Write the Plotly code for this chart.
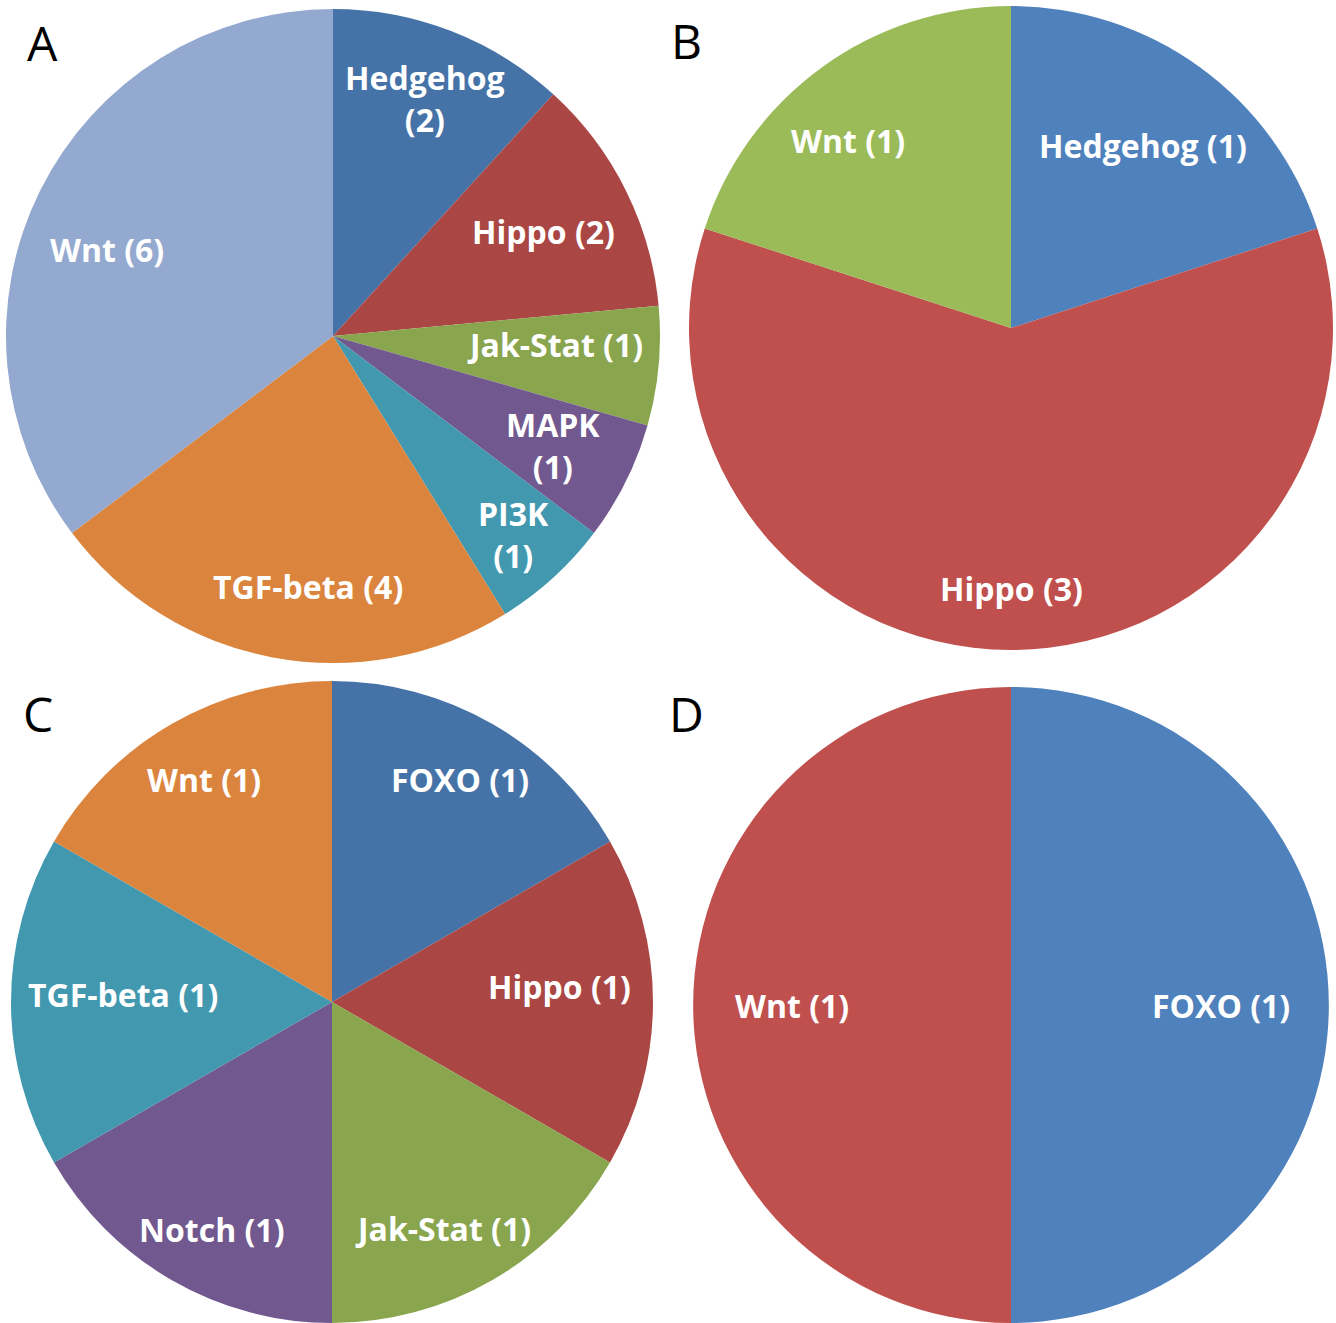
import math
import plotly.graph_objects as go

# ---------------- data ----------------
a_labels = ["Hedgehog", "Hippo", "Jak-Stat", "MAPK", "PI3K", "TGF-beta", "Wnt"]
a_values = [2, 2, 1, 1, 1, 4, 6]

b_labels = ["Hedgehog", "Hippo", "Wnt"]
b_values = [1, 3, 1]

c_labels = ["FOXO", "Hippo", "Jak-Stat", "Notch", "TGF-beta", "Wnt"]
c_values = [1, 1, 1, 1, 1, 1]

d_labels = ["FOXO", "Wnt"]
d_values = [1, 1]

panel_letters = ["A", "B", "C", "D"]

# ---------------- styling ----------------
W, H = 1336, 1323
a_colors = ["#4572A7", "#AA4643", "#89A54E", "#71588F", "#4198AF", "#DB843D", "#93A9CF"]
b_colors = ["#4F81BD", "#C0504D", "#9BBB59"]
c_colors = ["#4572A7", "#AA4643", "#89A54E", "#71588F", "#4198AF", "#DB843D"]
d_colors = ["#4F81BD", "#C0504D"]

# label radial position (fraction of radius), angular nudge (deg) and line-break flags
a_lr = [0.78, 0.72, 0.68, 0.75, 0.82, 0.77, 0.74]
a_da = [0, 0, -3, 0, 0, -5, -5.5]
a_br = [True, False, False, True, True, False, False]
b_lr = [0.70, 0.81, 0.77]
b_da = [0, 0, -5]
c_lr = [0.80, 0.71, 0.785, 0.80, 0.65, 0.80]
c_da = [0, -4, 3.8, -2.2, 2, 0]
d_lr = [0.66, 0.69]
d_da = [0, 0]

# pie centres / radii in pixels
geo = {
    "A": (333, 336, 327),
    "B": (1011, 328, 322),
    "C": (332, 1002, 321),
    "D": (1011, 1005, 318),
}
letter_pos = {"A": (42, 43), "B": (686, 40), "C": (38, 713), "D": (686, 713)}

LABEL_FONT = dict(family="Open Sans", size=32, color="white", weight="bold")

panels = [
    ("A", a_labels, a_values, a_colors, a_lr, a_da, a_br),
    ("B", b_labels, b_values, b_colors, b_lr, b_da, [False] * len(b_labels)),
    ("C", c_labels, c_values, c_colors, c_lr, c_da, [False] * len(c_labels)),
    ("D", d_labels, d_values, d_colors, d_lr, d_da, [False] * len(d_labels)),
]

fig = go.Figure()
annotations = []

for key, labels, values, colors, lr, da, br in panels:
    cx, cy, r = geo[key]
    dom_x = [max(0, (cx - r) / W), min(1, (cx + r) / W)]
    dom_y = [max(0, 1 - (cy + r) / H), min(1, 1 - (cy - r) / H)]
    fig.add_trace(go.Pie(
        labels=labels, values=values, sort=False, direction="clockwise",
        rotation=0, marker=dict(colors=colors, line=dict(width=0)),
        textinfo="none", hoverinfo="label+value", showlegend=False,
        domain=dict(x=dom_x, y=dom_y),
    ))
    total = sum(values)
    cum = 0
    for lab, v, k, d, b in zip(labels, values, lr, da, br):
        mid = (cum + v / 2) / total
        cum += v
        th = 2 * math.pi * mid + math.radians(d)
        px = cx + k * r * math.sin(th)
        py = cy - k * r * math.cos(th)
        txt = f"{lab}<br>({v})" if b else f"{lab} ({v})"
        annotations.append(dict(
            x=px / W, y=1 - py / H, xref="paper", yref="paper",
            text=txt, showarrow=False, font=LABEL_FONT,
            xanchor="center", yanchor="middle", align="center",
        ))

for key in panel_letters:
    lx, ly = letter_pos[key]
    annotations.append(dict(
        x=lx / W, y=1 - ly / H, xref="paper", yref="paper",
        text=key, showarrow=False,
        font=dict(family="Open Sans", size=48, color="black"),
        xanchor="center", yanchor="middle",
    ))

fig.update_layout(
    width=W, height=H, margin=dict(l=0, r=0, t=0, b=0),
    paper_bgcolor="white", plot_bgcolor="white",
    annotations=annotations,
)

fig.write_html("out.html", config={"displayModeBar": False},
               post_script="document.body.style.margin='0';")
